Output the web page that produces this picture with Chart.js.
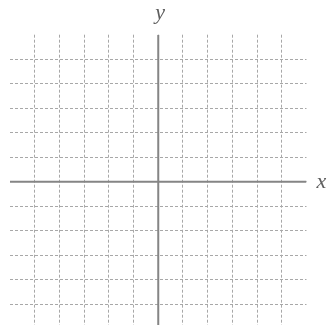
<!DOCTYPE html>
<html>
<head>
<meta charset="utf-8">
<script src="https://cdn.jsdelivr.net/npm/chart.js@4"></script>
<style>
html,body{margin:0;padding:0;background:#fff;overflow:hidden;}
#wrap{position:relative;width:328px;height:340px;}
</style>
</head>
<body>
<div id="wrap"><canvas id="c"></canvas></div>
<script>
// Data
const axisRange = [-6, 6];
const gridStep = 1;
const xAxisLine = [{x: -6, y: 0}, {x: 6, y: 0}];
const yAxisLine = [{x: 0, y: -6}, {x: 0, y: 6}];
const axisLabels = ['x', 'y'];

const labelPlugin = {
  id: 'axisLabels',
  afterDraw(chart) {
    const {ctx, scales: {x, y}} = chart;
    ctx.save();
    ctx.fillStyle = '#5e5e5e';
    ctx.font = 'italic 22px "Liberation Serif", "DejaVu Serif", serif';
    ctx.textAlign = 'center';
    ctx.textBaseline = 'middle';
    ctx.fillText(axisLabels[1], x.getPixelForValue(0) + 2, y.top - 21);
    ctx.fillText(axisLabels[0], x.right + 15, y.getPixelForValue(0) + 1);
    ctx.restore();
  }
};

const gridColor = (ctx) => {
  const v = ctx.tick ? ctx.tick.value : 0;
  return (Math.abs(v) === 6) ? 'rgba(0,0,0,0)' : '#a8a8a8';
};

new Chart(document.getElementById('c'), {
  type: 'scatter',
  data: {
    datasets: [
      {type: 'line', data: xAxisLine, borderColor: '#858585', borderWidth: 2, pointRadius: 0},
      {type: 'line', data: yAxisLine, borderColor: '#858585', borderWidth: 2, pointRadius: 0}
    ]
  },
  options: {
    responsive: true,
    maintainAspectRatio: false,
    animation: false,
    events: [],
    layout: {padding: {left: 10, right: 21.5, top: 34.7, bottom: 11.3}},
    plugins: {legend: {display: false}, tooltip: {enabled: false}},
    scales: {
      x: {
        type: 'linear', min: axisRange[0], max: axisRange[1],
        ticks: {display: false, stepSize: gridStep},
        grid: {color: gridColor, lineWidth: 1, drawTicks: false},
        border: {display: false, dash: [3, 2]}
      },
      y: {
        type: 'linear', min: axisRange[0], max: axisRange[1],
        ticks: {display: false, stepSize: gridStep},
        grid: {color: gridColor, lineWidth: 1, drawTicks: false},
        border: {display: false, dash: [3, 2]}
      }
    }
  },
  plugins: [labelPlugin]
});
</script>
</body>
</html>
